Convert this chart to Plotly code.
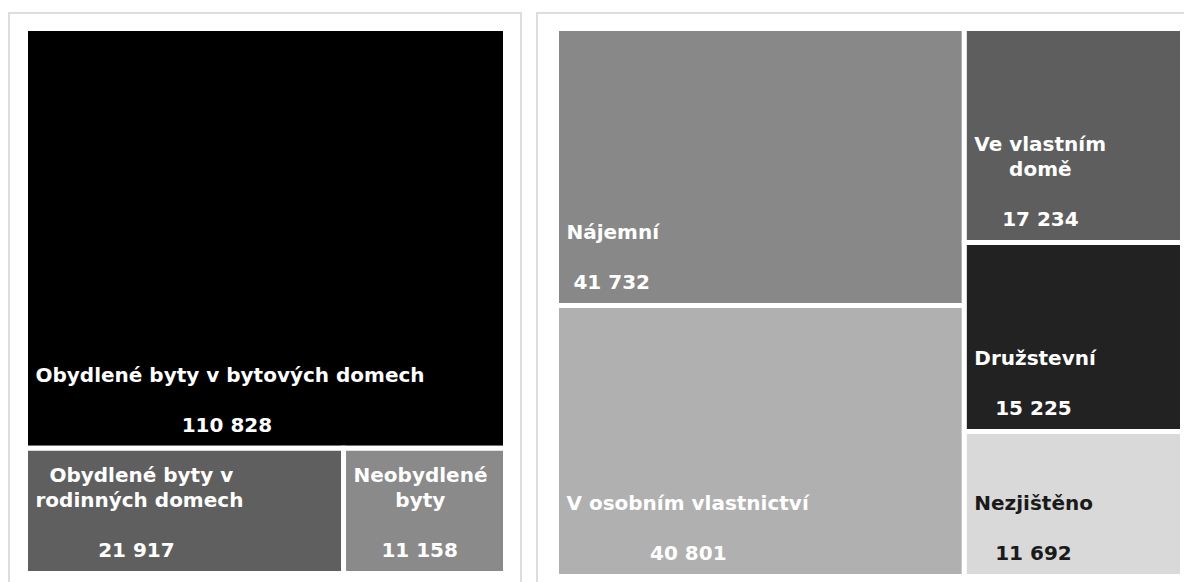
import plotly.graph_objects as go

# Byty podle obydlenosti
byty_labels = ["Obydlené byty v bytových domech", "Obydlené byty v rodinných domech", "Neobydlené byty"]
byty_lines = [["Obydlené byty v bytových domech"], ["Obydlené byty v", "rodinných domech"], ["Neobydlené", "byty"]]
byty_values = [110828, 21917, 11158]
byty_colors = ["#000000", "#5f5f5f", "#8a8a8a"]

# Obydlené byty podle právního důvodu užívání
duvod_labels = ["Nájemní", "V osobním vlastnictví", "Ve vlastním domě", "Družstevní", "Nezjištěno"]
duvod_lines = [["Nájemní"], ["V osobním vlastnictví"], ["Ve vlastním", "domě"], ["Družstevní"], ["Nezjištěno"]]
duvod_values = [41732, 40801, 17234, 15225, 11692]
duvod_colors = ["#888888", "#b0b0b0", "#5e5e5e", "#222222", "#d9d9d9"]
duvod_textcolors = ["#ffffff", "#ffffff", "#ffffff", "#ffffff", "#1a1a1a"]

W, H = 1184, 582
FONT = "DejaVu Sans"
LABEL_SIZE = 20      # visible label text
BASE_SIZE = 4.8      # base text size: one <br> advances 1.3 * BASE_SIZE px
BR_LABEL = 4         # breaks between wrapped label lines
BR_VALUE = 8         # breaks between label and value
BR_TAIL = 2          # breaks below the value (bottom padding)

# approximate advance widths (em) of DejaVu Sans Bold, used to centre label lines
_ADV = {" ": 0.348, "\u00a0": 0.348}
_ADV.update({d: 0.696 for d in "0123456789"})
_ADV.update({"a": 0.675, "á": 0.675, "b": 0.716, "c": 0.593, "d": 0.716, "e": 0.678,
             "é": 0.678, "ě": 0.678, "h": 0.712, "i": 0.343, "í": 0.343, "j": 0.343,
             "k": 0.665, "l": 0.343, "m": 1.042, "n": 0.712, "o": 0.687, "r": 0.493,
             "s": 0.595, "š": 0.595, "t": 0.478, "u": 0.712, "v": 0.652, "y": 0.652,
             "ý": 0.652, "z": 0.582, "ž": 0.582, "N": 0.837, "O": 0.850, "V": 0.774,
             "D": 0.830})


def text_width(s):
    return sum(_ADV.get(ch, 0.65) for ch in s)


def fmt_value(v):
    return f"{v:,}".replace(",", "\u00a0")


def centred(row, widest):
    n = int(round((widest - text_width(row)) / 2 / _ADV[" "]))
    return f'<span style="font-size:{LABEL_SIZE}px">' + "\u00a0" * (n + 1) + row + "</span>"


def block(lines, value):
    """Label lines and value, each line centred on the widest one."""
    value_text = fmt_value(value)
    widest = max(text_width(r) for r in list(lines) + [value_text])
    parts = [centred(lines[0], widest)]
    for row in lines[1:]:
        parts.append("<br>" * BR_LABEL + centred(row, widest))
    parts.append("<br>" * BR_VALUE + centred(value_text, widest))
    parts.append("<br>" * BR_TAIL + "\u00a0")
    return "".join(parts)


def px_x(v):
    return v / W


def px_y(v):
    return 1 - v / H


common = dict(
    textposition="bottom left",
    texttemplate="%{text}",
    sort=True,
    hoverinfo="label+value",
    pathbar=dict(visible=False),
    tiling=dict(packing="squarify", pad=0),
)

fig = go.Figure()

fig.add_trace(go.Treemap(
    labels=byty_labels,
    parents=[""] * len(byty_labels),
    values=byty_values,
    text=[block(l, v) for l, v in zip(byty_lines, byty_values)],
    marker=dict(colors=byty_colors, line=dict(color="#ffffff", width=5),
                pad=dict(t=0, l=0, r=0, b=0)),
    insidetextfont=dict(family=FONT, size=BASE_SIZE, color="#ffffff", weight="bold"),
    domain=dict(x=[px_x(25.5), px_x(505.5)], y=[px_y(573.5), px_y(28.5)]),
    **common,
))

fig.add_trace(go.Treemap(
    labels=duvod_labels,
    parents=[""] * len(duvod_labels),
    values=duvod_values,
    text=[block(l, v) for l, v in zip(duvod_lines, duvod_values)],
    marker=dict(colors=duvod_colors, line=dict(color="#ffffff", width=5),
                pad=dict(t=0, l=0, r=0, b=0)),
    insidetextfont=dict(family=FONT, size=BASE_SIZE, color=duvod_textcolors, weight="bold"),
    domain=dict(x=[px_x(556.5), px_x(1182.5)], y=[px_y(576.5), px_y(28.5)]),
    **common,
))

# panel frames
panel_line = dict(color="#dddddd", width=2)
fig.add_shape(type="rect", xref="paper", yref="paper",
              x0=px_x(9), x1=px_x(521), y0=px_y(600), y1=px_y(13), line=panel_line)
fig.add_shape(type="rect", xref="paper", yref="paper",
              x0=px_x(537), x1=px_x(1200), y0=px_y(600), y1=px_y(13), line=panel_line)

fig.update_layout(
    width=W, height=H,
    margin=dict(l=0, r=0, t=0, b=0),
    paper_bgcolor="#ffffff",
    separators=", ",
    showlegend=False,
)

fig.write_html("out.html")
